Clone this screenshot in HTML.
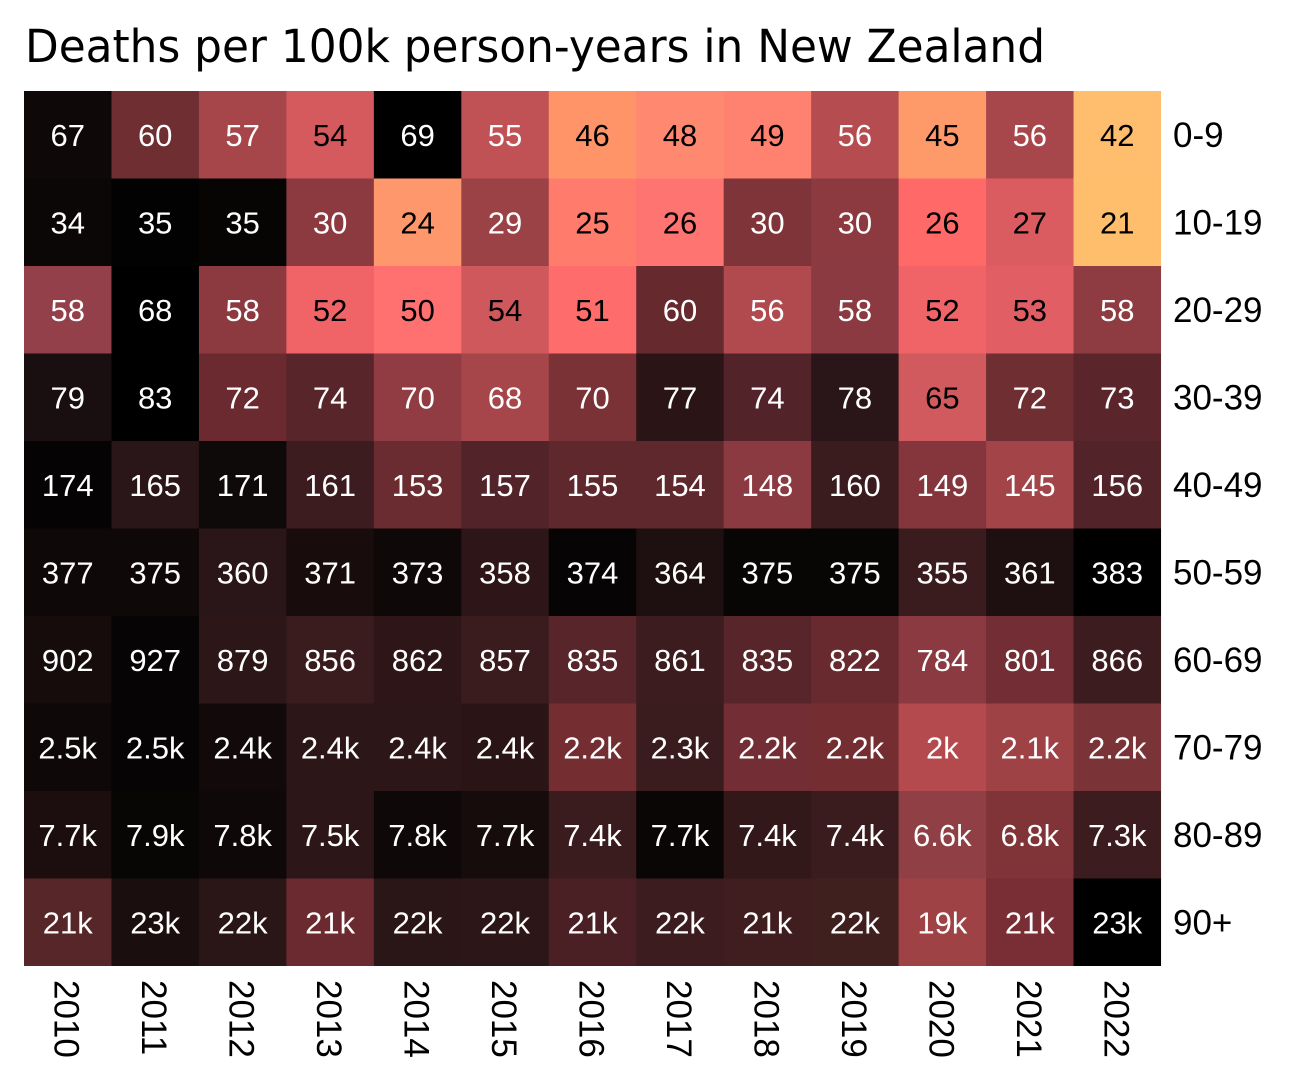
<!DOCTYPE html>
<html><head><meta charset="utf-8"><style>
html,body{margin:0;padding:0;background:#fff;}
svg{display:block;}
</style></head><body>
<svg width="1292" height="1085" xmlns="http://www.w3.org/2000/svg">
<text x="25" y="62" font-family="DejaVu Sans, sans-serif" font-size="45" textLength="1020" lengthAdjust="spacingAndGlyphs" fill="#000">Deaths per 100k person-years in New Zealand</text>

<g>
<g transform="translate(0,91)">
<rect x="24" width="88" height="88" fill="#0e0808"/><rect x="111.46" width="88" height="88" fill="#6e2e32"/><rect x="198.92" width="88" height="88" fill="#a6464b"/><rect x="286.38" width="88" height="88" fill="#d55a5e"/><rect x="373.85" width="88" height="88" fill="#000000"/><rect x="461.31" width="88" height="88" fill="#c05255"/><rect x="548.77" width="88" height="88" fill="#fe9468"/><rect x="636.23" width="88" height="88" fill="#ff8870"/><rect x="723.69" width="88" height="88" fill="#ff8270"/><rect x="811.15" width="88" height="88" fill="#b54c50"/><rect x="898.62" width="88" height="88" fill="#fe9a6a"/><rect x="986.08" width="88" height="88" fill="#a8474b"/><rect x="1073.54" width="87.5" height="88" fill="#ffbd6e"/>
</g>
<g transform="translate(0,178.5)">
<rect x="24" width="88" height="88" fill="#0c0707"/><rect x="111.46" width="88" height="88" fill="#030202"/><rect x="198.92" width="88" height="88" fill="#070404"/><rect x="286.38" width="88" height="88" fill="#8c3a40"/><rect x="373.85" width="88" height="88" fill="#ff976c"/><rect x="461.31" width="88" height="88" fill="#9b4246"/><rect x="548.77" width="88" height="88" fill="#ff7b6c"/><rect x="636.23" width="88" height="88" fill="#fe7470"/><rect x="723.69" width="88" height="88" fill="#7e3438"/><rect x="811.15" width="88" height="88" fill="#8c3a40"/><rect x="898.62" width="88" height="88" fill="#ff6a68"/><rect x="986.08" width="88" height="88" fill="#db5c60"/><rect x="1073.54" width="87.5" height="88" fill="#ffbe6c"/>
</g>
<g transform="translate(0,266)">
<rect x="24" width="88" height="88" fill="#93404a"/><rect x="111.46" width="88" height="88" fill="#000000"/><rect x="198.92" width="88" height="88" fill="#8c3a40"/><rect x="286.38" width="88" height="88" fill="#f06468"/><rect x="373.85" width="88" height="88" fill="#ff7070"/><rect x="461.31" width="88" height="88" fill="#cf585c"/><rect x="548.77" width="88" height="88" fill="#ff6c6c"/><rect x="636.23" width="88" height="88" fill="#662a2e"/><rect x="723.69" width="88" height="88" fill="#b04a4e"/><rect x="811.15" width="88" height="88" fill="#8a3a40"/><rect x="898.62" width="88" height="88" fill="#f06468"/><rect x="986.08" width="88" height="88" fill="#e05e64"/><rect x="1073.54" width="87.5" height="88" fill="#8e3c42"/>
</g>
<g transform="translate(0,353.5)">
<rect x="24" width="88" height="88" fill="#1a0f10"/><rect x="111.46" width="88" height="88" fill="#000000"/><rect x="198.92" width="88" height="88" fill="#6a2a30"/><rect x="286.38" width="88" height="88" fill="#58262a"/><rect x="373.85" width="88" height="88" fill="#903c42"/><rect x="461.31" width="88" height="88" fill="#a6464a"/><rect x="548.77" width="88" height="88" fill="#7a3236"/><rect x="636.23" width="88" height="88" fill="#2a1416"/><rect x="723.69" width="88" height="88" fill="#52242a"/><rect x="811.15" width="88" height="88" fill="#2a1618"/><rect x="898.62" width="88" height="88" fill="#d05a5e"/><rect x="986.08" width="88" height="88" fill="#6e2e32"/><rect x="1073.54" width="87.5" height="88" fill="#5a262c"/>
</g>
<g transform="translate(0,441)">
<rect x="24" width="88" height="88" fill="#050303"/><rect x="111.46" width="88" height="88" fill="#2a1618"/><rect x="198.92" width="88" height="88" fill="#0e0a0a"/><rect x="286.38" width="88" height="88" fill="#3c1c1e"/><rect x="373.85" width="88" height="88" fill="#6a2c30"/><rect x="461.31" width="88" height="88" fill="#52242a"/><rect x="548.77" width="88" height="88" fill="#5e282c"/><rect x="636.23" width="88" height="88" fill="#5e282c"/><rect x="723.69" width="88" height="88" fill="#8a3a40"/><rect x="811.15" width="88" height="88" fill="#3a1c1e"/><rect x="898.62" width="88" height="88" fill="#84363c"/><rect x="986.08" width="88" height="88" fill="#a24448"/><rect x="1073.54" width="87.5" height="88" fill="#52242a"/>
</g>
<g transform="translate(0,528.5)">
<rect x="24" width="88" height="88" fill="#0e0808"/><rect x="111.46" width="88" height="88" fill="#0e0808"/><rect x="198.92" width="88" height="88" fill="#2a1618"/><rect x="286.38" width="88" height="88" fill="#180c0c"/><rect x="373.85" width="88" height="88" fill="#0e0808"/><rect x="461.31" width="88" height="88" fill="#2e1618"/><rect x="548.77" width="88" height="88" fill="#060404"/><rect x="636.23" width="88" height="88" fill="#1e1010"/><rect x="723.69" width="88" height="88" fill="#080505"/><rect x="811.15" width="88" height="88" fill="#080505"/><rect x="898.62" width="88" height="88" fill="#3a1c1e"/><rect x="986.08" width="88" height="88" fill="#1e1010"/><rect x="1073.54" width="87.5" height="88" fill="#000000"/>
</g>
<g transform="translate(0,616)">
<rect x="24" width="88" height="88" fill="#160c0c"/><rect x="111.46" width="88" height="88" fill="#060404"/><rect x="198.92" width="88" height="88" fill="#2c1618"/><rect x="286.38" width="88" height="88" fill="#3a1c1e"/><rect x="373.85" width="88" height="88" fill="#2e1618"/><rect x="461.31" width="88" height="88" fill="#3a1c1e"/><rect x="548.77" width="88" height="88" fill="#58262a"/><rect x="636.23" width="88" height="88" fill="#3c1c1e"/><rect x="723.69" width="88" height="88" fill="#58262a"/><rect x="811.15" width="88" height="88" fill="#682a2e"/><rect x="898.62" width="88" height="88" fill="#8a3a40"/><rect x="986.08" width="88" height="88" fill="#722e34"/><rect x="1073.54" width="87.5" height="88" fill="#3c1c1e"/>
</g>
<g transform="translate(0,703.5)">
<rect x="24" width="88" height="88" fill="#0e0808"/><rect x="111.46" width="88" height="88" fill="#060404"/><rect x="198.92" width="88" height="88" fill="#120a0a"/><rect x="286.38" width="88" height="88" fill="#2c1618"/><rect x="373.85" width="88" height="88" fill="#2c1618"/><rect x="461.31" width="88" height="88" fill="#2a1416"/><rect x="548.77" width="88" height="88" fill="#742e32"/><rect x="636.23" width="88" height="88" fill="#3a1c1e"/><rect x="723.69" width="88" height="88" fill="#722e34"/><rect x="811.15" width="88" height="88" fill="#742e32"/><rect x="898.62" width="88" height="88" fill="#b44a4e"/><rect x="986.08" width="88" height="88" fill="#9e4246"/><rect x="1073.54" width="87.5" height="88" fill="#7a3438"/>
</g>
<g transform="translate(0,791)">
<rect x="24" width="88" height="88" fill="#1c0e0e"/><rect x="111.46" width="88" height="88" fill="#080505"/><rect x="198.92" width="88" height="88" fill="#0e0808"/><rect x="286.38" width="88" height="88" fill="#2c1618"/><rect x="373.85" width="88" height="88" fill="#0e0808"/><rect x="461.31" width="88" height="88" fill="#160c0c"/><rect x="548.77" width="88" height="88" fill="#3a1c1e"/><rect x="636.23" width="88" height="88" fill="#0a0606"/><rect x="723.69" width="88" height="88" fill="#321818"/><rect x="811.15" width="88" height="88" fill="#3a1c1e"/><rect x="898.62" width="88" height="88" fill="#904044"/><rect x="986.08" width="88" height="88" fill="#803438"/><rect x="1073.54" width="87.5" height="88" fill="#3c1c1e"/>
</g>
<g transform="translate(0,878.5)">
<rect x="24" width="88" height="87.5" fill="#562628"/><rect x="111.46" width="88" height="87.5" fill="#1a0e0e"/><rect x="198.92" width="88" height="87.5" fill="#2a1616"/><rect x="286.38" width="88" height="87.5" fill="#6a2a30"/><rect x="373.85" width="88" height="87.5" fill="#2a1616"/><rect x="461.31" width="88" height="87.5" fill="#2c1618"/><rect x="548.77" width="88" height="87.5" fill="#4a2024"/><rect x="636.23" width="88" height="87.5" fill="#3c1c1e"/><rect x="723.69" width="88" height="87.5" fill="#401e20"/><rect x="811.15" width="88" height="87.5" fill="#40201e"/><rect x="898.62" width="88" height="87.5" fill="#9e4246"/><rect x="986.08" width="88" height="87.5" fill="#782e34"/><rect x="1073.54" width="87.5" height="87.5" fill="#000000"/>
</g>
</g>

<g font-family="Liberation Sans, sans-serif" font-size="31" text-anchor="middle" fill="#fff">
<g transform="translate(0,145.75)">
<text x="67.73">67</text><text x="155.19">60</text><text x="242.65">57</text><text x="330.12" fill="#000">54</text><text x="417.58">69</text><text x="505.04">55</text><text x="592.5" fill="#000">46</text><text x="679.96" fill="#000">48</text><text x="767.42" fill="#000">49</text><text x="854.88">56</text><text x="942.35" fill="#000">45</text><text x="1029.81">56</text><text x="1117.27" fill="#000">42</text>
</g>
<g transform="translate(0,233.25)">
<text x="67.73">34</text><text x="155.19">35</text><text x="242.65">35</text><text x="330.12">30</text><text x="417.58" fill="#000">24</text><text x="505.04">29</text><text x="592.5" fill="#000">25</text><text x="679.96" fill="#000">26</text><text x="767.42">30</text><text x="854.88">30</text><text x="942.35" fill="#000">26</text><text x="1029.81" fill="#000">27</text><text x="1117.27" fill="#000">21</text>
</g>
<g transform="translate(0,320.75)">
<text x="67.73">58</text><text x="155.19">68</text><text x="242.65">58</text><text x="330.12" fill="#000">52</text><text x="417.58" fill="#000">50</text><text x="505.04" fill="#000">54</text><text x="592.5" fill="#000">51</text><text x="679.96">60</text><text x="767.42">56</text><text x="854.88">58</text><text x="942.35" fill="#000">52</text><text x="1029.81" fill="#000">53</text><text x="1117.27">58</text>
</g>
<g transform="translate(0,408.25)">
<text x="67.73">79</text><text x="155.19">83</text><text x="242.65">72</text><text x="330.12">74</text><text x="417.58">70</text><text x="505.04">68</text><text x="592.5">70</text><text x="679.96">77</text><text x="767.42">74</text><text x="854.88">78</text><text x="942.35" fill="#000">65</text><text x="1029.81">72</text><text x="1117.27">73</text>
</g>
<g transform="translate(0,495.75)">
<text x="67.73">174</text><text x="155.19">165</text><text x="242.65">171</text><text x="330.12">161</text><text x="417.58">153</text><text x="505.04">157</text><text x="592.5">155</text><text x="679.96">154</text><text x="767.42">148</text><text x="854.88">160</text><text x="942.35">149</text><text x="1029.81">145</text><text x="1117.27">156</text>
</g>
<g transform="translate(0,583.25)">
<text x="67.73">377</text><text x="155.19">375</text><text x="242.65">360</text><text x="330.12">371</text><text x="417.58">373</text><text x="505.04">358</text><text x="592.5">374</text><text x="679.96">364</text><text x="767.42">375</text><text x="854.88">375</text><text x="942.35">355</text><text x="1029.81">361</text><text x="1117.27">383</text>
</g>
<g transform="translate(0,670.75)">
<text x="67.73">902</text><text x="155.19">927</text><text x="242.65">879</text><text x="330.12">856</text><text x="417.58">862</text><text x="505.04">857</text><text x="592.5">835</text><text x="679.96">861</text><text x="767.42">835</text><text x="854.88">822</text><text x="942.35">784</text><text x="1029.81">801</text><text x="1117.27">866</text>
</g>
<g transform="translate(0,758.25)">
<text x="67.73">2.5k</text><text x="155.19">2.5k</text><text x="242.65">2.4k</text><text x="330.12">2.4k</text><text x="417.58">2.4k</text><text x="505.04">2.4k</text><text x="592.5">2.2k</text><text x="679.96">2.3k</text><text x="767.42">2.2k</text><text x="854.88">2.2k</text><text x="942.35">2k</text><text x="1029.81">2.1k</text><text x="1117.27">2.2k</text>
</g>
<g transform="translate(0,845.75)">
<text x="67.73">7.7k</text><text x="155.19">7.9k</text><text x="242.65">7.8k</text><text x="330.12">7.5k</text><text x="417.58">7.8k</text><text x="505.04">7.7k</text><text x="592.5">7.4k</text><text x="679.96">7.7k</text><text x="767.42">7.4k</text><text x="854.88">7.4k</text><text x="942.35">6.6k</text><text x="1029.81">6.8k</text><text x="1117.27">7.3k</text>
</g>
<g transform="translate(0,933.25)">
<text x="67.73">21k</text><text x="155.19">23k</text><text x="242.65">22k</text><text x="330.12">21k</text><text x="417.58">22k</text><text x="505.04">22k</text><text x="592.5">21k</text><text x="679.96">22k</text><text x="767.42">21k</text><text x="854.88">22k</text><text x="942.35">19k</text><text x="1029.81">21k</text><text x="1117.27">23k</text>
</g>
</g>

<g font-family="Liberation Sans, sans-serif" font-size="35" fill="#000">
<text x="1173" y="147">0-9</text>
<text x="1173" y="234.5">10-19</text>
<text x="1173" y="322">20-29</text>
<text x="1173" y="409.5">30-39</text>
<text x="1173" y="497">40-49</text>
<text x="1173" y="584.5">50-59</text>
<text x="1173" y="672">60-69</text>
<text x="1173" y="759.5">70-79</text>
<text x="1173" y="847">80-89</text>
<text x="1173" y="934.5">90+</text>
</g>

<g font-family="Liberation Sans, sans-serif" font-size="35" fill="#000">
<text transform="translate(54.7,980) rotate(90)">2010</text>
<text transform="translate(142.2,980) rotate(90)">2011</text>
<text transform="translate(229.7,980) rotate(90)">2012</text>
<text transform="translate(317.1,980) rotate(90)">2013</text>
<text transform="translate(404.6,980) rotate(90)">2014</text>
<text transform="translate(492.0,980) rotate(90)">2015</text>
<text transform="translate(579.5,980) rotate(90)">2016</text>
<text transform="translate(667.0,980) rotate(90)">2017</text>
<text transform="translate(754.4,980) rotate(90)">2018</text>
<text transform="translate(841.9,980) rotate(90)">2019</text>
<text transform="translate(929.4,980) rotate(90)">2020</text>
<text transform="translate(1016.8,980) rotate(90)">2021</text>
<text transform="translate(1104.3,980) rotate(90)">2022</text>
</g>
</svg>
</body></html>
